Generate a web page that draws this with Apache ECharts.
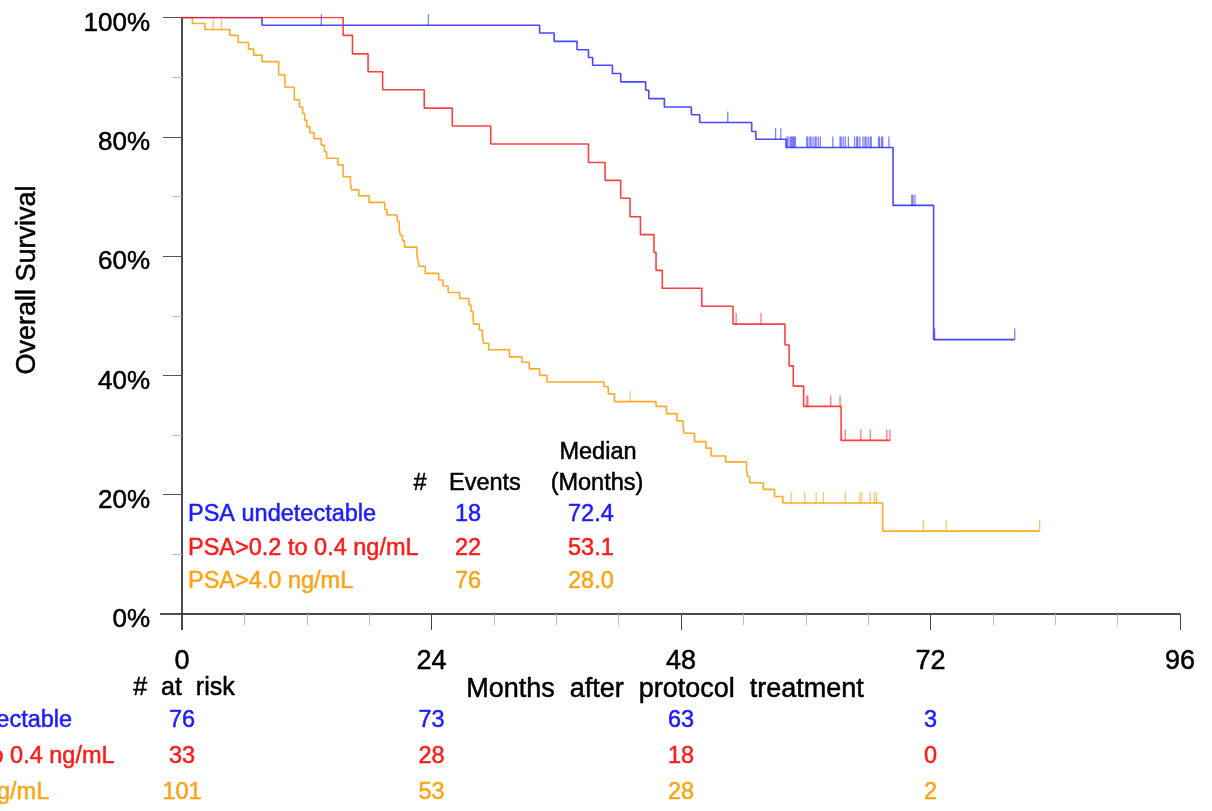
<!DOCTYPE html>
<html><head><meta charset="utf-8">
<script src="https://cdn.jsdelivr.net/npm/echarts@6/dist/echarts.min.js"></script>
<style>html,body{margin:0;padding:0;background:#fff}#c{width:1212px;height:811px}</style>
</head><body><div id="c"></div>
<script>
// ---------------- data ----------------
const groupNames = ['PSA undetectable', 'PSA>0.2 to 0.4 ng/mL', 'PSA>4.0 ng/mL'];
const eventCounts = ['18', '22', '76'];
const medianMonths = ['72.4', '53.1', '28.0'];
const xTickValues = [0, 24, 48, 72, 96];
const riskTimes = [0, 24, 48, 72];
const riskUndetectable = [76, 73, 63, 3];
const riskMid = [33, 28, 18, 0];
const riskHigh = [101, 53, 28, 2];

// PSA undetectable: event times (months) and survival (%) after each event
const undetTimes = [7.7, 34.4, 35.8, 38.0, 39.1, 39.5, 41.4, 42.2, 44.6, 44.9, 46.4, 49.0, 49.8, 54.8, 55.2, 58.1, 68.4, 72.3];
const undetSurv  = [98.7, 97.4, 96.0, 94.6, 93.3, 92.0, 90.6, 89.2, 87.8, 86.4, 85.0, 83.7, 82.4, 80.9, 79.6, 78.2, 68.5, 46.0];
const undetCensor = [13.4, 23.7, 52.5, 57.1, 57.6, 58.2, 58.3, 58.5, 58.6, 58.7, 58.8, 58.9, 59.0, 60.1, 60.2, 60.4, 60.5, 60.7, 60.9, 61.0, 61.2, 61.4, 62.6, 63.3, 63.4, 63.6, 63.8, 64.1, 64.7, 64.9, 65.0, 65.2, 65.5, 65.7, 65.8, 66.0, 66.2, 66.3, 67.0, 67.1, 67.3, 67.4, 68.0, 70.2, 70.3, 70.5, 72.4, 80.1];

// PSA>0.2 to 0.4 ng/mL
const midTimes = [15.5, 16.4, 17.9, 19.3, 23.3, 26.0, 29.7, 39.1, 40.7, 42.2, 43.1, 44.1, 45.4, 45.6, 46.2, 50.0, 53.0, 58.0, 58.4, 58.8, 59.8, 63.4];
const midSurv  = [97.0, 93.9, 90.9, 87.9, 84.8, 81.8, 78.8, 75.7, 72.7, 69.7, 66.6, 63.6, 60.6, 57.6, 54.6, 51.6, 48.6, 45.1, 41.6, 38.2, 34.8, 29.1];
const midCensor = [53.3, 55.7, 60.1, 60.2, 62.4, 63.3, 63.8, 65.3, 66.2, 67.8, 68.1];

// PSA>4.0 ng/mL
const highTimes = [1.0, 2.2, 4.6, 5.4, 6.4, 6.9, 7.7, 9.3, 9.9, 10.8, 11.3, 11.6, 11.8, 12.0, 12.3, 12.7, 13.4, 13.7, 13.9, 15.0, 15.5, 16.2, 16.3, 17.0, 18.0, 19.5, 19.7, 20.7, 20.9, 21.0, 21.2, 21.4, 22.6, 22.7, 22.8, 23.4, 24.7, 25.1, 25.6, 26.7, 27.6, 27.8, 28.0, 28.05, 28.6, 28.9, 29.0, 29.5, 31.5, 32.7, 33.4, 34.4, 35.1, 40.6, 41.0, 41.6, 45.6, 46.6, 47.6, 48.2, 48.3, 49.3, 50.4, 50.9, 52.3, 54.3, 54.4, 54.6, 55.9, 57.0, 57.8, 67.4];
const highSurv  = [99.0, 98.0, 97.0, 95.8, 94.7, 93.7, 92.6, 90.4, 88.3, 86.2, 85.0, 83.9, 82.8, 81.7, 80.7, 79.7, 78.6, 77.5, 76.4, 75.3, 73.3, 72.3, 71.1, 70.1, 69.0, 67.8, 66.9, 65.8, 64.5, 63.5, 62.6, 61.5, 60.2, 59.3, 58.3, 57.1, 56.0, 55.0, 53.9, 52.9, 51.8, 50.7, 49.6, 48.6, 47.6, 46.5, 45.4, 44.3, 43.1, 42.2, 41.1, 40.0, 38.9, 38.1, 36.9, 35.6, 34.8, 33.6, 32.4, 31.4, 30.3, 28.9, 27.8, 26.5, 25.5, 24.3, 23.1, 22.0, 20.9, 19.7, 18.6, 13.9];
const highCensor = [3.0, 3.8, 43.1, 58.6, 59.9, 61.0, 61.7, 63.8, 65.2, 65.4, 66.2, 66.6, 66.8, 71.3, 73.5, 82.5];

// ---------------- helpers ----------------
const COLORS = ['#1c1cff', '#ff1a1a', '#ffa314'];
const LINECOLORS = ['rgba(40,40,255,0.85)', 'rgba(255,30,30,0.85)', '#ffab2a'];
const FONT = '"Liberation Sans", Arial, Helvetica, sans-serif';

function survAt(times, surv, t) {
  let s = 100;
  for (let i = 0; i < times.length; i++) { if (times[i] <= t) s = surv[i]; }
  return s;
}
function stepData(times, surv, censor) {
  const d = [[0, 100]];
  for (let i = 0; i < times.length; i++) d.push([times[i], surv[i]]);
  const end = Math.max(times[times.length - 1], censor[censor.length - 1]);
  d.push([end, survAt(times, surv, end)]);
  return d;
}
function censorData(times, surv, censor) {
  return censor.map(t => [t, survAt(times, surv, t)]);
}

const groups = [
  [undetTimes, undetSurv, undetCensor],
  [midTimes, midSurv, midCensor],
  [highTimes, highSurv, highCensor]
];
const drawOrder = [2, 0, 1];
const series = [];
drawOrder.forEach(g => {
  const [t, s, c] = groups[g];
  series.push({
    type: 'line', step: 'end', symbol: 'none', silent: true,
    data: stepData(t, s, c),
    lineStyle: { color: LINECOLORS[g], width: 1.6 },
    z: 3
  });
  series.push({
    type: 'scatter', silent: true,
    data: censorData(t, s, c),
    symbol: 'rect', symbolSize: [1.3, 11], symbolOffset: [0, -5.5],
    itemStyle: { color: LINECOLORS[g], opacity: 0.7 },
    z: 4
  });
});

const chart = echarts.init(document.getElementById('c'), null, { renderer: 'canvas' });
const option = {
  animation: false,
  backgroundColor: '#fff',
  grid: { left: 182, right: 32, top: 17.5, bottom: 197, containLabel: false },
  xAxis: {
    type: 'value', min: 0, max: 96, interval: 24,
    axisLine: { show: true, lineStyle: { color: '#111', width: 1.5 } },
    axisTick: { show: true, length: 16, lineStyle: { color: '#444', width: 1 } },
    minorTick: { show: true, splitNumber: 4, length: 11, lineStyle: { color: '#bbb', width: 1 } },
    splitLine: { show: false },
    axisLabel: { margin: 34, fontSize: 27, color: '#000', fontFamily: FONT,
      textBorderColor: '#000', textBorderWidth: 0.5,
      formatter: v => xTickValues.includes(v) ? String(v) : '' }
  },
  yAxis: {
    type: 'value', min: 0, max: 100, interval: 20,
    axisLine: { show: true, lineStyle: { color: '#111', width: 1.5 } },
    axisTick: { show: true, length: 19, lineStyle: { color: '#555', width: 1 } },
    minorTick: { show: true, splitNumber: 2, length: 10, lineStyle: { color: '#bbb', width: 1 } },
    splitLine: { show: false },
    axisLabel: { margin: 32, fontSize: 26, color: '#000', fontFamily: FONT,
      textBorderColor: '#000', textBorderWidth: 0.5,
      verticalAlign: 'top', lineHeight: 12, formatter: v => v + '%' }
  },
  series: series
};
chart.setOption(option);

// ---------------- annotations ----------------
const origin = chart.convertToPixel({ gridIndex: 0 }, [0, 0]);
const graphics = [];
// axis line extensions (x axis to the left, y axis below)
graphics.push({ type: 'line', shape: { x1: origin[0] - 22, y1: origin[1], x2: origin[0], y2: origin[1] }, style: { stroke: '#111', lineWidth: 1.5 } });
graphics.push({ type: 'line', shape: { x1: origin[0], y1: origin[1], x2: origin[0], y2: origin[1] + 16 }, style: { stroke: '#111', lineWidth: 1.5 } });

function txt(x, y, text, opts, extra) {
  const st = Object.assign({
    text: text, fontSize: 23.5, fontFamily: FONT, fill: '#000',
    align: 'left', verticalAlign: 'middle', lineWidth: 0.5 }, opts || {});
  if (!st.stroke) st.stroke = st.fill;
  graphics.push(Object.assign({ type: 'text', x: x, y: y, silent: true, style: st }, extra || {}));
}

// axis titles & "# at risk"
txt(28, 280, 'Overall Survival', { align: 'center', fontSize: 27 }, { rotation: Math.PI / 2 });
txt(665, 690, 'Months  after  protocol  treatment', { align: 'center', fontSize: 27 });
txt(184, 688, '#  at  risk', { align: 'center', fontSize: 25 });

// at-risk table
const riskRows = [riskUndetectable, riskMid, riskHigh];
const riskY = [721, 757, 793];
riskRows.forEach((row, g) => {
  txt(-116, riskY[g], groupNames[g], { fill: COLORS[g] });
  row.forEach((n, i) => {
    const px = chart.convertToPixel({ gridIndex: 0 }, [riskTimes[i], 0])[0];
    txt(px, riskY[g], String(n), { fill: COLORS[g], align: 'center' });
  });
});

// legend / summary table
txt(598, 453, 'Median', { align: 'center' });
txt(597, 484, '(Months)', { align: 'center' });
txt(420, 484, '#', { align: 'center' });
txt(449, 484, 'Events');
const legY = [515, 549, 582];
groupNames.forEach((name, g) => {
  txt(188, legY[g], name, { fill: COLORS[g] });
  txt(468, legY[g], eventCounts[g], { fill: COLORS[g], align: 'center' });
  txt(568, legY[g], medianMonths[g], { fill: COLORS[g] });
});

chart.setOption({ graphic: { elements: graphics } });
</script>
</body></html>
